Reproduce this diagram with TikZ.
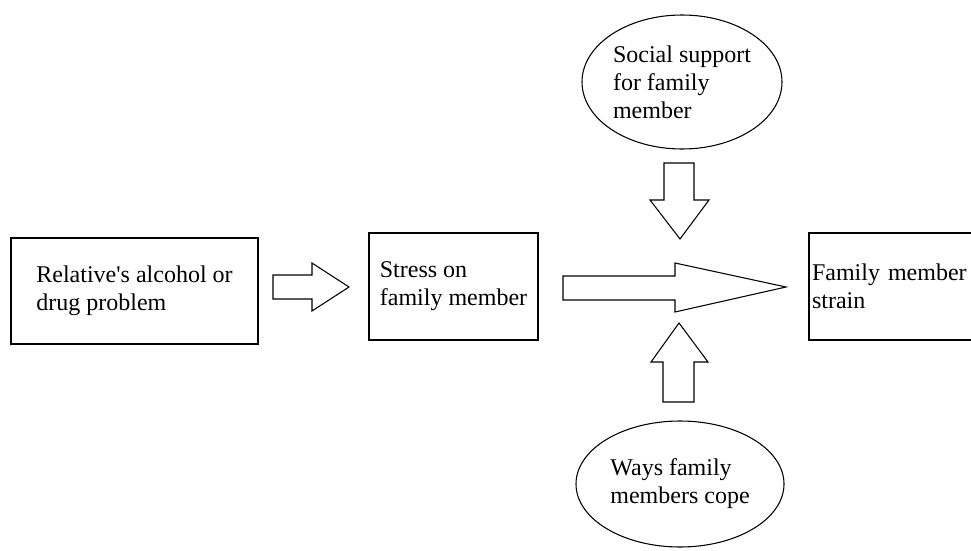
\documentclass[tikz,border=0pt]{standalone}
\usepackage{fontspec}
\setmainfont{Liberation Serif}[Ligatures=TeXOff]
\usetikzlibrary{shapes.geometric}

\tikzset{
  factor/.style={draw, line width=0.9pt, rectangle, align=left, inner sep=0pt,
    font=\fontsize{18}{21}\selectfont},
  moderator/.style={draw, line width=0.8pt, ellipse, align=left, inner sep=0pt,
    font=\fontsize{18}{21}\selectfont},
  fatarrow/.style={draw, line width=0.8pt, line join=miter}
}

\begin{document}
\begin{tikzpicture}[x=0.75pt,y=-0.75pt]
    \useasboundingbox (0,0) rectangle (971,550);
    \clip (0,0) rectangle (971,550);
    \node[factor, minimum width=185.25pt, minimum height=79.5pt] (problem)
      at (134.5,291) {Relative's alcohol or\\drug problem};
    \node[factor, minimum width=126.75pt, minimum height=80.25pt] (stress)
      at (453.5,286.5) {Stress on\\family member};
    \node[factor, minimum width=143.25pt, minimum height=80.25pt,
      inner xsep=2.25pt, text width=138.75pt] (strain)
      at (904.5,286.5) {Family member\\strain};
    \node[moderator, minimum width=150pt, minimum height=100.5pt] (support)
      at (682,82) {Social support\\for family\\member};
    \node[moderator, minimum width=156pt, minimum height=94.5pt] (coping)
      at (680,484) {Ways family\\members cope};
    \draw[fatarrow] (273,275) -- (312,275) -- (312,263) -- (349,287)
      -- (312,311) -- (312,299) -- (273,299) -- cycle;
    \draw[fatarrow] (563,276) -- (675,276) -- (675,263) -- (786,287)
      -- (675,312) -- (675,300) -- (563,300) -- cycle;
    \draw[fatarrow] (664,163) -- (694,163) -- (694,200) -- (709,200)
      -- (680,239) -- (650,200) -- (664,200) -- cycle;
    \draw[fatarrow] (663,402) -- (694,402) -- (694,362) -- (708,362)
      -- (679,323) -- (651,362) -- (663,362) -- cycle;
  \end{tikzpicture}
\end{document}
